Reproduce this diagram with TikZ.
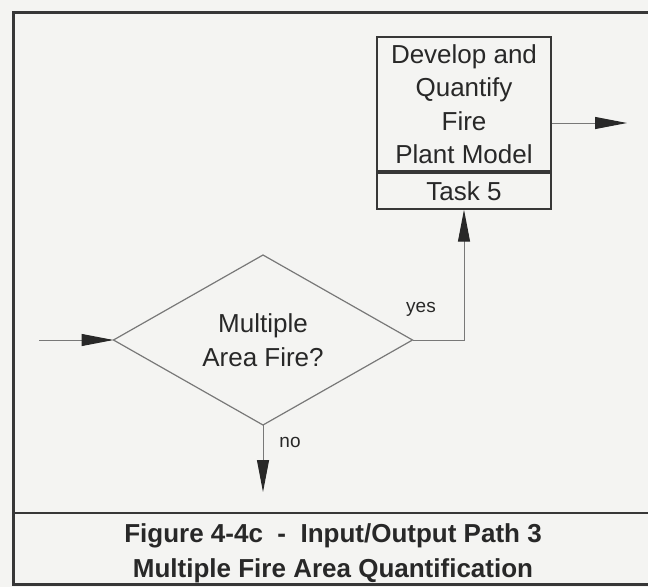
\documentclass[tikz,border=0pt]{standalone}
\usepackage{fontspec}
\setmainfont{Liberation Sans}
\usetikzlibrary{arrows.meta,shapes.geometric}
\definecolor{paper}{RGB}{244,244,242}
\definecolor{ink}{RGB}{40,40,40}
\definecolor{rule}{RGB}{55,55,55}
\definecolor{wire}{RGB}{120,120,120}
\tikzset{
  taskbox/.style={draw=rule,line width=1.8pt,minimum width=174pt,inner sep=0pt,
    align=center,text=ink,font=\fontsize{26}{33.5}\selectfont},
  decision/.style={diamond,draw=wire,line width=1.2pt,aspect=1.76,
    minimum width=299pt,minimum height=170pt,inner sep=0pt,outer sep=0pt,
    align=center,text=ink,font=\fontsize{26}{34}\selectfont},
  flow/.style={draw=wire,line width=1pt,-{Triangle[length=32pt,width=12pt,color=ink]}},
  lbl/.style={text=ink,font=\fontsize{19}{21}\selectfont},
  captxt/.style={align=center,text=ink,font=\bfseries\fontsize{26}{35}\selectfont}
}
\begin{document}
\begin{tikzpicture}[x=1pt,y=-1pt]
  \useasboundingbox (0,0) rectangle (648,587);
  \fill[paper] (0,0) rectangle (648,587);
  % frame and caption
  \draw[rule,line width=3pt,line join=miter] (648,12) -- (13,12) -- (13,584) -- (648,584);
  \draw[rule,line width=2.5pt] (13,513) -- (648,513);
  \node[captxt] (cap) at (333,553)
    {Figure 4-4c \ - \ Input/Output Path 3\\Multiple Fire Area Quantification};
  % task box
  \node[taskbox,minimum height=134pt] (model) at (464,104)
    {Develop and\\Quantify\\Fire\\Plant Model};
  \node[taskbox,minimum height=36pt,anchor=north] (task) at (model.south) {Task 5};
  % decision
  \node[decision] (dec) at (263,340) {Multiple\\Area Fire?};
  % connectors
  \coordinate (src) at (39,340);
  \coordinate (sink) at (627,123);
  \coordinate (nout) at (263,492);
  \draw[flow] (src) -- (dec.west);
  \draw[flow] (model.east |- sink) -- (sink);
  \draw[flow] (dec.east) -| (task.south);
  \draw[flow] (dec.south) -- (nout);
  \node[lbl] (yes) at (421,309) {yes};
  \node[lbl] (no) at (290,442) {no};
\end{tikzpicture}
\end{document}
